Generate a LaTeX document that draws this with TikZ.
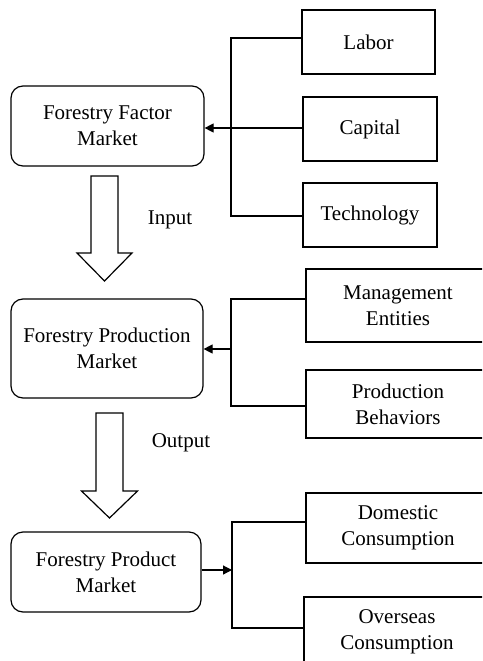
\documentclass[tikz,border=0pt]{standalone}
\usepackage{fontspec}
\setmainfont{Liberation Serif}
\usetikzlibrary{arrows.meta}

\begin{document}
\begin{tikzpicture}[x=1pt,y=-1pt,
    font=\fontsize{21}{26}\selectfont,
    market/.style={draw,line width=1.2pt,rounded corners=12pt,align=center,inner sep=0pt},
    item/.style={draw,line width=1.2pt,align=center,inner sep=0pt},
    link/.style={line width=1.2pt},
    tip/.style={line width=1.2pt,-{Triangle[length=9pt,width=9pt]}}]
    \clip (0,0) rectangle (482,661);
    % markets
    \node[market,minimum width=193pt,minimum height=80pt] (factor) at (107.5,126) {Forestry Factor\\Market};
    \node[market,minimum width=192pt,minimum height=99pt] (production) at (107,348.5) {Forestry Production\\Market};
    \node[market,minimum width=190pt,minimum height=80pt] (product) at (106,572) {Forestry Product\\Market};
    % factors
    \node[item,minimum width=133pt,minimum height=64pt] (labor) at (368.5,42) {Labor};
    \node[item,minimum width=134pt,minimum height=64pt] (capital) at (370,129) {Capital};
    \node[item,minimum width=134pt,minimum height=64pt] (tech) at (370,215) {Technology};
    \node[item,minimum width=184pt,minimum height=73pt] (entities) at (398,305.5) {Management\\Entities};
    \node[item,minimum width=184pt,minimum height=68pt] (behaviors) at (398,404) {Production\\Behaviors};
    \node[item,minimum width=184pt,minimum height=70pt] (domestic) at (398,528) {Domestic\\Consumption};
    \node[item,minimum width=186pt,minimum height=70pt] (overseas) at (397,632) {Overseas\\Consumption};
    % brackets
    \coordinate (btop1) at (231,38);
    \coordinate (bmid1) at (231,128);
    \coordinate (bbot1) at (231,216);
    \draw[link] (labor.west |- btop1) -- (btop1) -- (bbot1) -- (tech.west |- bbot1);
    \draw[link] (capital.west |- bmid1) -- (bmid1);
    \draw[tip] (bmid1) -- (factor.east |- bmid1);

    \coordinate (btop2) at (231,299);
    \coordinate (bmid2) at (231,349);
    \coordinate (bbot2) at (231,406);
    \draw[link] (entities.west |- btop2) -- (btop2) -- (bbot2) -- (behaviors.west |- bbot2);
    \draw[tip] (bmid2) -- (production.east |- bmid2);

    \coordinate (btop3) at (232,522);
    \coordinate (bmid3) at (232,570);
    \coordinate (bbot3) at (232,628);
    \draw[link] (domestic.west |- btop3) -- (btop3) -- (bbot3) -- (overseas.west |- bbot3);
    \draw[tip] (product.east |- bmid3) -- (bmid3);
    % block arrows
    \coordinate (inarrow) at (104.5,176);
    \draw[link] (inarrow) ++(-13.5,0) -- ++(0,77) -- ++(-14,0) -- ++(27.5,28) -- ++(27.5,-28) -- ++(-14,0) -- ++(0,-77) -- cycle;
    \node (inlabel) at (170,220) {Input};
    \coordinate (outarrow) at (109.5,413);
    \draw[link] (outarrow) ++(-13.5,0) -- ++(0,78) -- ++(-14.5,0) -- ++(28,27) -- ++(28,-27) -- ++(-14.5,0) -- ++(0,-78) -- cycle;
    \node (outlabel) at (181,443) {Output};
\end{tikzpicture}
\end{document}
